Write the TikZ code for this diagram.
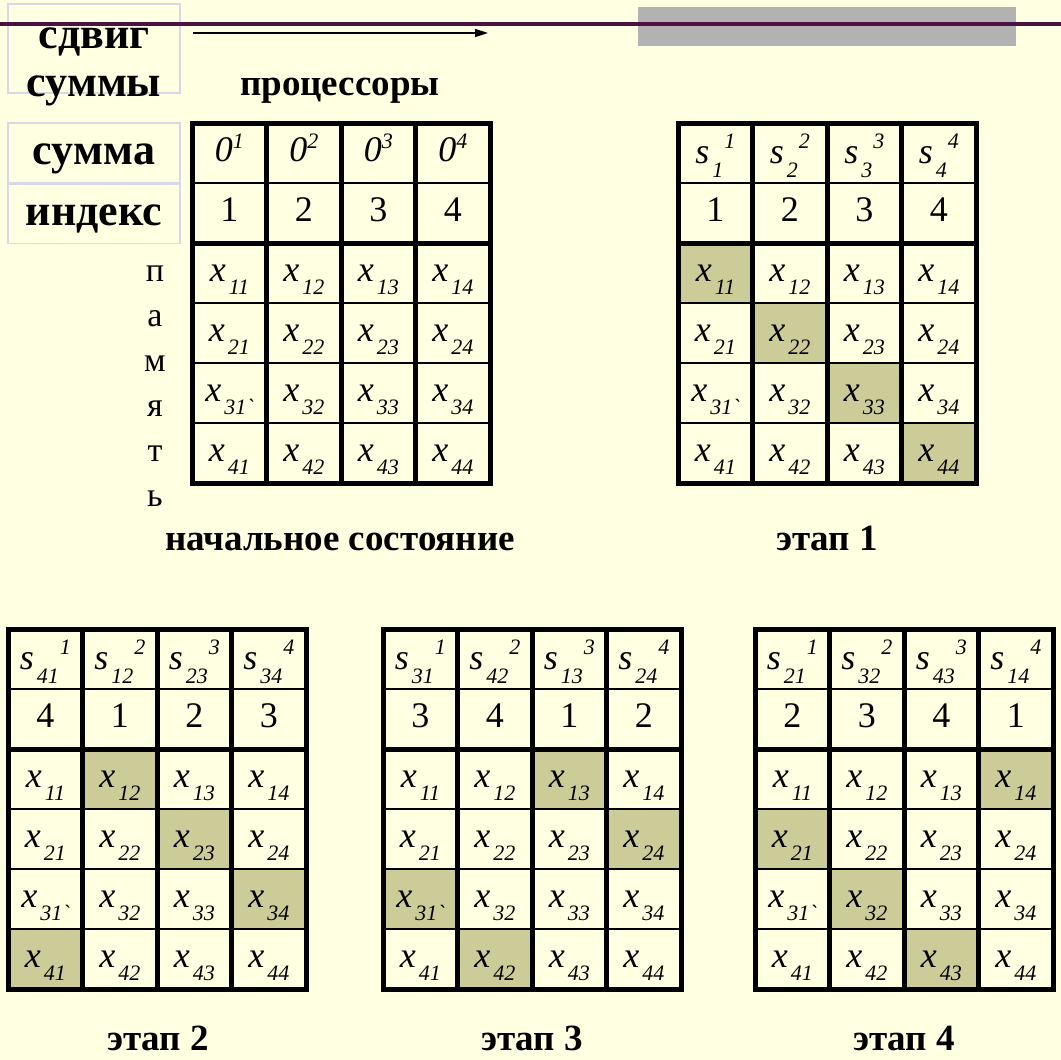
\documentclass[tikz,border=0pt]{standalone}
\usepackage{fontspec}
\setmainfont{Liberation Serif}
\usetikzlibrary{arrows.meta, positioning}

\definecolor{slidebg}{RGB}{255, 255, 225}
\definecolor{hitcolor}{RGB}{204, 204, 153}
\definecolor{rulepurple}{RGB}{78, 18, 66}
\definecolor{bargray}{RGB}{178, 178, 178}
\definecolor{boxlavender}{RGB}{216, 216, 232}

\newcommand{\subfnt}{\fontsize{22}{22}\selectfont\itshape}
\newcommand{\xval}[1]{\textit{x}\kern3pt\raisebox{-13pt}{\subfnt #1}}
\newcommand{\sval}[2]{\raisebox{-2pt}{\textit{s}\kern3pt\raisebox{-14pt}{\subfnt #1}\kern1pt\raisebox{15pt}{\subfnt #2}}}
\newcommand{\zval}[1]{\textit{0}\raisebox{13pt}{\subfnt #1}}

\tikzset{
  cell/.style={
    rectangle, anchor=north west, inner sep=0pt,
    minimum width=74.5pt, minimum height=60pt,
    text height=17pt, text depth=0pt,
    font=\fontsize{36}{40}\selectfont
  },
  thinrule/.style={line width=2pt},
  thickrule/.style={line width=5pt, line cap=rect},
  lblbox/.style={
    rectangle, draw=boxlavender, line width=1.5pt, inner sep=0pt,
    text height=22pt, text depth=0pt,
    font=\fontsize{44}{44}\selectfont\bfseries
  },
  boxtxt/.style={font=\fontsize{44}{44}\selectfont\bfseries, anchor=base},
  headlbl/.style={font=\fontsize{37}{40}\selectfont\bfseries, anchor=base, inner sep=0pt},
  memlbl/.style={font=\fontsize{34}{45}\selectfont, align=center, inner sep=0pt},
  arrow/.style={-{Triangle[length=13pt,width=8pt]}, line width=1.5pt}
}

%% one 6x4 table: name, left, top, highlight shift (-1 = none), sums, indices
\newcommand{\gridtable}[6]{%
  \foreach \hd [count=\ci] in {#5} {
    \node[cell] (#1-sum-\ci) at ({#2+(\ci-1)*74.5}, #3) {\hd};
  }
  \foreach \ix [count=\ci] in {#6} {
    \node[cell] (#1-idx-\ci) at ({#2+(\ci-1)*74.5}, #3+60) {\ix};
  }
  \foreach \ri in {1,...,4} {
    \foreach \ci in {1,...,4} {
      \pgfmathtruncatemacro{\hc}{#4<0 ? 0 : mod(\ri+#4-1,4)+1}
      \ifnum\ci=\hc \def\cellfill{hitcolor}\else\def\cellfill{none}\fi
      \node[cell, fill=\cellfill] (#1-x-\ri-\ci)
        at ({#2+(\ci-1)*74.5}, {#3+120+(\ri-1)*60})
        {\xval{\ri\ci\ifnum\ri\ci=31 \textasciigrave\fi}};
    }
  }
  \draw[thinrule] (#1-sum-1.south west) -- (#1-sum-4.south east);
  \foreach \ri in {1,2,3}
    \draw[thinrule] (#1-x-\ri-1.south west) -- (#1-x-\ri-4.south east);
  \draw[thickrule] (#1-idx-1.south west) -- (#1-idx-4.south east);
  \foreach \ci in {1,2,3}
    \draw[thickrule] (#1-sum-\ci.north east) -- (#1-x-4-\ci.south east);
  \draw[thickrule] (#1-sum-1.north west) rectangle (#1-x-4-4.south east);
}

\begin{document}
\begin{tikzpicture}[x=1pt, y=-1pt]

  \useasboundingbox (0,0) rectangle (1061,1060);
  \fill[slidebg] (0,0) rectangle (1061,1060);

  %% ---- slide header ----
  \fill[bargray] (638,7) rectangle (1016,46);

  \node[lblbox, minimum width=172pt, minimum height=89pt] (shiftbox) at (94,48.5) {};
  \node[lblbox, minimum width=172pt, minimum height=60pt] (sumbox) at (94,153) {сумма};
  \node[lblbox, minimum width=172pt, minimum height=59pt, below=0pt of sumbox] (idxbox) {индекс};

  \draw[rulepurple, line width=3.5pt] (0,24) -- (1061,24);

  \node[boxtxt] (shifttxt) at (94,48) {сдвиг};
  \node[boxtxt] (sumstxt) at (94,96) {суммы};

  \coordinate (shiftfrom) at (193,33);
  \coordinate (shiftto) at (488,33);
  \draw[arrow] (shiftfrom) -- (shiftto);

  \node[headlbl] (proclbl) at (340,95) {процессоры};
  \node[memlbl] (memlbl) at (155,386) {п\\а\\м\\я\\т\\ь};

  %% ---- initial state and stage 1 ----
  \gridtable{init}{192}{123}{-1}%
    {\zval{1},\zval{2},\zval{3},\zval{4}}{1,2,3,4}
  \gridtable{st1}{678}{123}{0}%
    {\sval{1}{1},\sval{2}{2},\sval{3}{3},\sval{4}{4}}{1,2,3,4}

  \node[headlbl] (initlbl) at (340,550) {начальное состояние};
  \node[headlbl] (st1lbl) at (827,550) {этап 1};

  %% ---- stages 2 to 4 ----
  \gridtable{st2}{8}{629}{1}%
    {\sval{41}{1},\sval{12}{2},\sval{23}{3},\sval{34}{4}}{4,1,2,3}
  \gridtable{st3}{383}{629}{2}%
    {\sval{31}{1},\sval{42}{2},\sval{13}{3},\sval{24}{4}}{3,4,1,2}
  \gridtable{st4}{755}{629}{3}%
    {\sval{21}{1},\sval{32}{2},\sval{43}{3},\sval{14}{4}}{2,3,4,1}

  \node[headlbl] (st2lbl) at (158,1050) {этап 2};
  \node[headlbl] (st3lbl) at (532,1050) {этап 3};
  \node[headlbl] (st4lbl) at (904,1050) {этап 4};

\end{tikzpicture}
\end{document}
